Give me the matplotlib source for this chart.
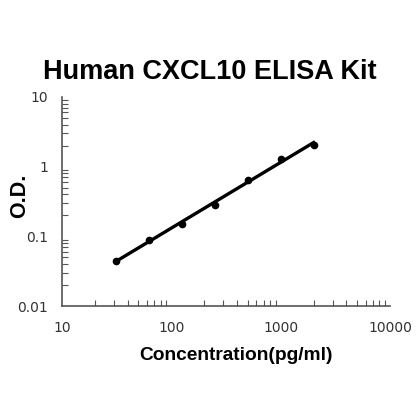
import numpy as np
import matplotlib.pyplot as plt
from matplotlib.ticker import LogLocator, FixedLocator, NullFormatter

plt.rcParams['font.family'] = ['Liberation Sans', 'DejaVu Sans']

# standard curve data
conc = [31.25, 62.5, 125, 250, 500, 1000, 2000]
od = [0.044, 0.088, 0.152, 0.285, 0.65, 1.29, 2.03]

x_ticks = [10, 100, 1000, 10000]
x_labels = ['10', '100', '1000', '10000']
y_ticks = [0.01, 0.1, 1, 10]
y_labels = ['0.01', '0.1', '1', '10']

fig = plt.figure(figsize=(4.2, 4.2), dpi=100)
ax = fig.add_axes([62 / 420, 1 - 306 / 420, 328 / 420, 209 / 420])

# linear fit in log-log space
k, b = np.polyfit(np.log10(conc), np.log10(od), 1)
xf = np.logspace(np.log10(conc[0]), np.log10(conc[-1]), 50)
ax.plot(xf, 10 ** (k * np.log10(xf) + b), color='black', lw=2.4)
ax.plot(conc, od, 'o', color='black', ms=4.5)

ax.set_xscale('log')
ax.set_yscale('log')
ax.set_xlim(10, 10000)
ax.set_ylim(0.01, 10)

ax.spines['top'].set_visible(False)
ax.spines['right'].set_visible(False)
for s in ['left', 'bottom']:
    ax.spines[s].set_color('#555555')
    ax.spines[s].set_linewidth(1.2)

ax.xaxis.set_major_locator(FixedLocator(x_ticks))
ax.set_xticklabels(x_labels, family='DejaVu Sans')
ax.yaxis.set_major_locator(FixedLocator(y_ticks))
ax.set_yticklabels(y_labels, family='DejaVu Sans')
ax.xaxis.set_minor_locator(LogLocator(base=10, subs=np.arange(2, 10)))
ax.yaxis.set_minor_locator(LogLocator(base=10, subs=np.arange(2, 10)))
ax.xaxis.set_minor_formatter(NullFormatter())
ax.yaxis.set_minor_formatter(NullFormatter())

ax.tick_params(which='major', length=0, labelsize=10, labelcolor='#333333')
ax.tick_params(axis='x', which='major', pad=11)
ax.tick_params(axis='y', which='major', pad=10)
ax.tick_params(which='minor', direction='in', length=4, width=0.8, color='#555555')

fig.text(0.5, 1 - 72 / 420, 'Human CXCL10 ELISA Kit', fontsize=19.5,
         fontweight='bold', ha='center', va='center')
fig.text(236 / 420, 1 - 355 / 420, 'Concentration(pg/ml)', fontsize=13.8,
         fontweight='bold', ha='center', va='center')
fig.text(20 / 420, 1 - 196 / 420, 'O.D.', fontsize=15.5, fontweight='bold',
         ha='center', va='center', rotation=90)

fig.savefig('out.png', dpi=100)
